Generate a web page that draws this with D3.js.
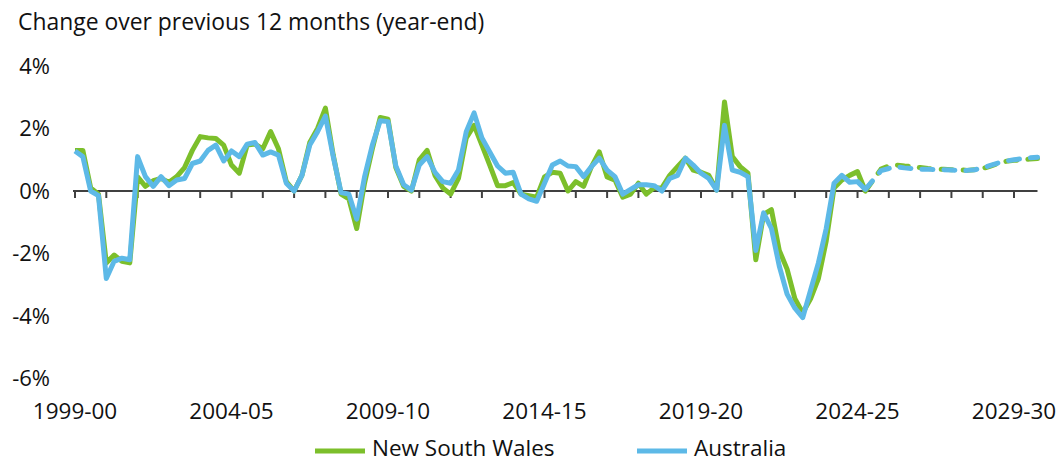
<!DOCTYPE html>
<html>
<head>
<meta charset="utf-8">
<script src="https://cdn.jsdelivr.net/npm/d3@7"></script>
<style>
  body { margin: 0; background: #fff; }
  svg { display: block; font-family: "Open Sans", sans-serif; }
</style>
</head>
<body>
<div id="chart"></div>
<script>
// quarterly values, first point = Sep quarter 1999
const nswActual = [
  1.3, 1.3, 0.1, -0.1, -2.3, -2.05, -2.25, -2.3, 0.45, 0.15, 0.33, 0.4,
  0.28, 0.46, 0.75, 1.3, 1.74, 1.7, 1.68, 1.47, 0.83, 0.57, 1.47, 1.5,
  1.35, 1.9, 1.35, 0.3, 0.0, 0.5, 1.55, 2.0, 2.65, 1.15, -0.1, -0.25,
  -1.2, 0.25, 1.35, 2.35, 2.3, 0.75, 0.15, 0.0, 1.0, 1.3, 0.5, 0.1,
  -0.1, 0.4, 1.7, 2.1, 1.47, 0.83, 0.17, 0.17, 0.27, -0.1, -0.15, -0.2,
  0.45, 0.6, 0.57, 0.0, 0.3, 0.15, 0.78, 1.25, 0.45, 0.35, -0.2, -0.1,
  0.25, -0.1, 0.1, 0.1, 0.5, 0.78, 1.05, 0.67, 0.6, 0.5, 0.03, 2.85,
  1.1, 0.78, 0.57, -2.2, -0.75, -0.6, -1.9, -2.5, -3.45, -3.9, -3.45, -2.8,
  -1.6, 0.1, 0.35, 0.5, 0.62, 0.0
];
const ausActual = [
  1.28, 1.1, 0.0, -0.15, -2.8, -2.25, -2.15, -2.2, 1.1, 0.46, 0.15, 0.46,
  0.17, 0.35, 0.4, 0.88, 0.96, 1.3, 1.47, 0.96, 1.28, 1.1, 1.5, 1.55,
  1.15, 1.25, 1.15, 0.25, 0.0, 0.5, 1.47, 1.9, 2.4, 1.1, -0.05, -0.1,
  -0.9, 0.45, 1.47, 2.25, 2.22, 0.8, 0.2, 0.03, 0.83, 1.1, 0.6, 0.3,
  0.25, 0.67, 1.9, 2.5, 1.7, 1.25, 0.8, 0.57, 0.6, -0.1, -0.25, -0.33,
  0.25, 0.83, 0.96, 0.8, 0.78, 0.46, 0.78, 1.05, 0.67, 0.46, -0.1, 0.05,
  0.2, 0.2, 0.17, 0.0, 0.4, 0.5, 1.05, 0.83, 0.57, 0.4, 0.03, 2.1,
  0.67, 0.6, 0.46, -1.9, -0.7, -1.2, -2.4, -3.3, -3.75, -4.05, -3.17, -2.3,
  -1.2, 0.25, 0.5, 0.28, 0.3, 0.05
];
// projections, starting at the last actual quarter
const nswForecast = [
  0.0, 0.35, 0.7, 0.8, 0.83, 0.8, 0.78, 0.75, 0.72, 0.7, 0.7, 0.68,
  0.68, 0.66, 0.68, 0.72, 0.8, 0.88, 0.95, 0.98, 1.0, 1.02, 1.04
];
const ausForecast = [
  0.05, 0.35, 0.65, 0.72, 0.78, 0.74, 0.72, 0.7, 0.7, 0.68, 0.68, 0.67,
  0.66, 0.66, 0.68, 0.74, 0.82, 0.9, 0.96, 1.0, 1.03, 1.06, 1.08
];
const yearLabels = ["1999-00", "2004-05", "2009-10", "2014-15", "2019-20", "2024-25", "2029-30"];
const yTicks = [4, 2, 0, -2, -4, -6];

const width = 1061;
const height = 462;
const green = "#7cbf2b";
const blue = "#5db9e7";

const nQuarters = nswActual.length - 1 + nswForecast.length;
const forecastStart = nswActual.length - 1;

const svg = d3.select("#chart").append("svg")
  .attr("width", width)
  .attr("height", height);

const x = d3.scaleLinear()
  .domain([0, nQuarters - 1])
  .range([75, 1037.5]);

const y = d3.scaleLinear()
  .domain([-6, 4])
  .range([378.5, 66]);

// title
svg.append("text")
  .attr("x", 18)
  .attr("y", 30)
  .style("font-size", "22.9px")
  .style("fill", "#111")
  .text("Change over previous 12 months (year-end)");

// y labels
svg.selectAll(".ylab")
  .data(yTicks)
  .join("text")
  .attr("class", "ylab")
  .attr("x", 50)
  .attr("y", d => y(d))
  .attr("dy", "0.36em")
  .style("text-anchor", "end")
  .style("font-size", "22px")
  .style("fill", "#111")
  .text(d => d + "%");

// zero axis with yearly ticks
svg.append("line")
  .attr("x1", x(0) - 2)
  .attr("x2", x(nQuarters - 1))
  .attr("y1", y(0))
  .attr("y2", y(0))
  .style("stroke", "#404040")
  .style("stroke-width", 2);

const tickIdx = d3.range(0, nQuarters, 4);
svg.selectAll(".tick")
  .data(tickIdx)
  .join("line")
  .attr("class", "tick")
  .attr("x1", d => x(d))
  .attr("x2", d => x(d))
  .attr("y1", y(0))
  .attr("y2", y(0) + 7)
  .style("stroke", "#404040")
  .style("stroke-width", 2);

svg.selectAll(".xlab")
  .data(yearLabels)
  .join("text")
  .attr("class", "xlab")
  .attr("x", (d, i) => x(i * 20))
  .attr("y", 419)
  .style("text-anchor", "middle")
  .style("font-size", "22.5px")
  .style("fill", "#111")
  .text(d => d);

// lines
const line = d3.line()
  .x(d => x(d[0]))
  .y(d => y(d[1]));

const series = [
  { values: nswActual, start: 0, color: green, dash: null },
  { values: ausActual, start: 0, color: blue, dash: null },
  { values: nswForecast, start: forecastStart, color: green, dash: "11,11" },
  { values: ausForecast, start: forecastStart, color: blue, dash: "11,11" }
];

series.forEach(s => {
  svg.append("path")
    .datum(s.values.map((v, i) => [s.start + i, v]))
    .attr("d", line)
    .style("fill", "none")
    .style("stroke", s.color)
    .style("stroke-width", 5)
    .style("stroke-linejoin", "round")
    .style("stroke-linecap", s.dash ? "round" : "butt")
    .style("stroke-dasharray", s.dash);
});

// legend
const legend = [
  { label: "New South Wales", color: green, x: 315 },
  { label: "Australia", color: blue, x: 637 }
];

legend.forEach(l => {
  svg.append("line")
    .attr("x1", l.x)
    .attr("x2", l.x + 50)
    .attr("y1", 451)
    .attr("y2", 451)
    .style("stroke", l.color)
    .style("stroke-width", 5);

  svg.append("text")
    .attr("x", l.x + 57)
    .attr("y", 456)
    .style("font-size", "22.5px")
    .style("fill", "#111")
    .text(l.label);
});
</script>
</body>
</html>
